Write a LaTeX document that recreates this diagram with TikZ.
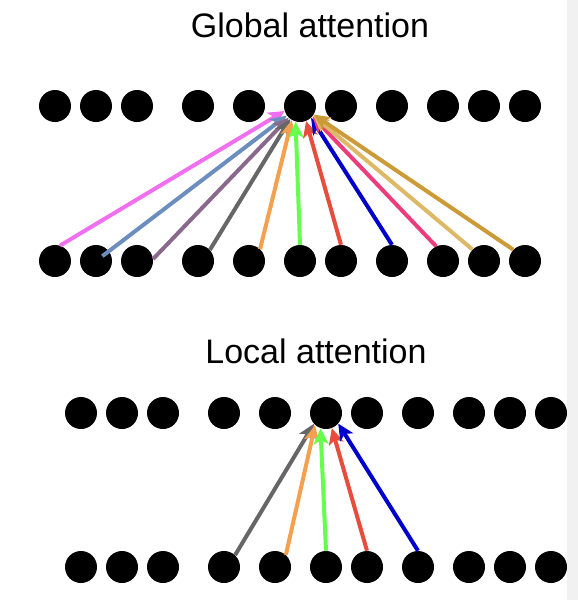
\documentclass[tikz,border=0pt]{standalone}
\usepackage{fontspec}
\setmainfont{Liberation Sans}
\usepackage[HTML]{xcolor}
\usetikzlibrary{arrows.meta}

\definecolor{cviolet}{HTML}{F06EF0}
\definecolor{csteel}{HTML}{6C8EBF}
\definecolor{cpurple}{HTML}{8A6A8C}
\definecolor{cgray}{HTML}{666666}
\definecolor{corange}{HTML}{F5A04F}
\definecolor{cgreen}{HTML}{66FF4D}
\definecolor{cred}{HTML}{E84C3D}
\definecolor{cblue}{HTML}{0000CC}
\definecolor{ccrimson}{HTML}{EC3C7C}
\definecolor{clgold}{HTML}{DDB866}
\definecolor{cgold}{HTML}{CD9A38}
\definecolor{cstrip}{HTML}{F1F1F1}

\begin{document}
\begin{tikzpicture}[x=1pt, y=-1pt,
  dot/.style={circle, fill=black, minimum size=32pt, inner sep=0pt},
  link/.style={line width=4pt, -{Stealth[length=16pt, width=15pt, inset=4pt]}},
  title/.style={anchor=base, font=\fontsize{34}{40}\selectfont}]
\useasboundingbox (0,0) rectangle (578,600);

% titles
\node[title] (global) at (310,37) {Global attention};
\node[title] (local) at (316,363) {Local attention};

% rows of tokens
\foreach \x [count=\i] in {55,96,137,198,249,300,341,392,443,484,525} {
  \node[dot] (gq\i) at (\x,106) {};
  \node[dot] (gk\i) at (\x,261) {};
  \node[dot] (lq\i) at (\x+26,413) {};
  \node[dot] (lk\i) at (\x+26,567) {};
}

% global attention: every token points to the centre one
\foreach \i/\a/\b/\c/\s in {1/72/198/cviolet/0, 2/center/216/csteel/8,
    3/7/226/cpurple/0, 4/43/233/cgray/0, 5/47/240/corange/0,
    6/90/254/cgreen/0, 7/90/292/cred/0, 8/90/313/cblue/0,
    9/115/320/ccrimson/0, 10/135/324/clgold/0, 11/136/328/cgold/0} {
  \draw[link, \c, shorten <=\s pt] (gk\i.\a) -- (gq6.\b);
}

% local attention: only the neighbours
\foreach \i/\a/\b/\c in {4/47/222/cgray, 5/48/228/corange,
    6/90/250/cgreen, 7/90/291/cred, 8/90/319/cblue} {
  \draw[link, \c] (lk\i.\a) -- (lq6.\b);
}

% grey strip on the right
\fill[cstrip] (567,0) rectangle (578,600);
\end{tikzpicture}
\end{document}
